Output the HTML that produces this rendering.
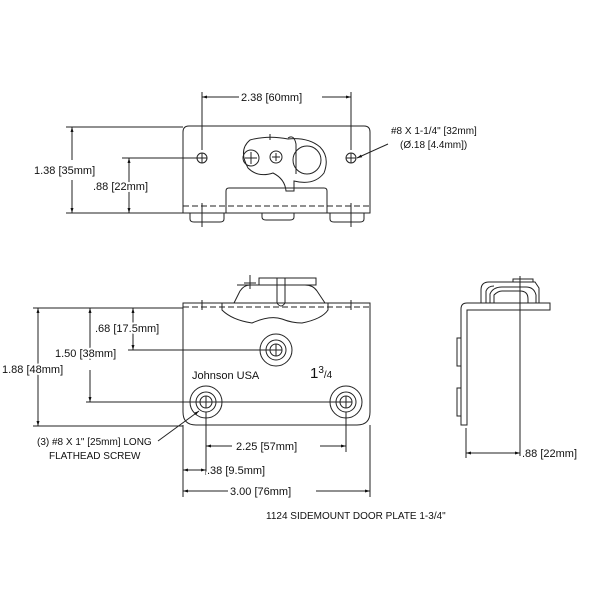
<!DOCTYPE html>
<html><head><style>body{margin:0;background:#fff}svg{display:block}text{font-family:"Liberation Sans",sans-serif;fill:#111;stroke:#fff;stroke-width:4px;paint-order:stroke;stroke-linejoin:round}</style></head>
<body>
<svg width="600" height="600" viewBox="0 0 600 600" xmlns="http://www.w3.org/2000/svg">
<defs>
<marker id="a" viewBox="0 0 10 10" refX="10" refY="5" markerWidth="7" markerHeight="5" orient="auto-start-reverse"><path d="M0,2 L10,5 L0,8z" fill="#111"/></marker>
</defs>
<g fill="none" stroke="#222" stroke-width="1">
<!-- TOP VIEW -->
<path d="M189,126 H364 Q370,126 370,132 V213 H183 V132 Q183,126 189,126Z"/>
<path d="M183,206 H370" stroke-dasharray="6,3"/>
<path d="M190,213 v6 q0,3 4,3 h26 q4,0 4,-3 v-6 M262,213 v4 q0,3 4,3 h24 q4,0 4,-3 v-4 M330,213 v6 q0,3 4,3 h26 q4,0 4,-3 v-6"/>
<path d="M226,213 V191 q0,-3 3,-3 h95 q3,0 3,3 V213"/>
<circle cx="202" cy="158" r="5"/><circle cx="351" cy="158" r="5"/>
<path d="M197,158h10M202,153v10M346,158h10M351,153v10"/>
<path d="M250,140 q-12,10 -2,28 q10,10 25,5 q12,6 13,18 h8 v-10 q20,5 30,-8 q6,-16 -4,-26 q-12,-10 -32,-8 q-20,-4 -38,1Z"/>
<circle cx="251" cy="158" r="8"/><path d="M245,158h12M251,152v12"/>
<circle cx="276" cy="157" r="6"/><path d="M272,157h8M276,153v8"/>
<circle cx="307" cy="160" r="14"/>
<path d="M288,138 q6,-4 8,6 l0,30"/>
<path d="M202,203v24M351,203v24M270,140v-6"/>
<!-- top dims -->
<path d="M202,150V92M351,150V92"/>
<path d="M202,97H239M322,97H351" marker-start="url(#a)" marker-end="url(#a)"/>
<path d="M66,127H183M66,213H183M122,158H197"/>
<path d="M72,127V160M72,180V213" marker-start="url(#a)" marker-end="url(#a)"/>
<path d="M129,158V213" marker-start="url(#a)" marker-end="url(#a)"/>
<path d="M388,144 L357,158" marker-end="url(#a)"/>
<!-- FRONT VIEW -->
<path d="M183,303 H370 V412 Q370,425 357,425 H196 Q183,425 183,412Z"/>
<path d="M183,307 H370" stroke-dasharray="6,3"/>
<path d="M222,303 V310 q10,10 30,13 q18,-8 30,-4 q10,4 20,4 q20,-4 26,-13 V303"/>
<path d="M234,303 l6,-12 q4,-6 10,-6 h55 q8,0 12,6 l8,12"/>
<path d="M237,285 h22 v-7 h57 v7 h-57"/>
<path d="M277,278 v25 q4,6 8,0 v-25"/>
<path d="M250,275v14M244,283h12M202,300v10M351,300v10"/>
<circle cx="276" cy="350" r="16"/><circle cx="276" cy="350" r="10"/><circle cx="276" cy="350" r="6"/><path d="M270,350h12M276,344v12"/>
<circle cx="206" cy="402" r="16"/><circle cx="206" cy="402" r="10"/><circle cx="206" cy="402" r="6"/><path d="M200,402h12M206,396v12"/>
<circle cx="346" cy="402" r="16"/><circle cx="346" cy="402" r="10"/><circle cx="346" cy="402" r="6"/><path d="M340,402h12M346,396v12"/>
<!-- front dims -->
<path d="M33,308H183M33,426H183M128,350H276M86,402H346"/>
<path d="M38,308V426" marker-start="url(#a)" marker-end="url(#a)"/>
<path d="M90,308V360M90,370V402" marker-start="url(#a)" marker-end="url(#a)"/>
<path d="M133,308V350" marker-start="url(#a)" marker-end="url(#a)"/>
<path d="M158,441 L199,411" marker-end="url(#a)"/>
<path d="M183,425V497M370,425V497M206,412V475M346,412V452"/>
<path d="M206,446H232M320,446H346" marker-start="url(#a)" marker-end="url(#a)"/>
<path d="M183,470H206" marker-start="url(#a)" marker-end="url(#a)"/>
<path d="M183,491H228M316,491H370" marker-start="url(#a)" marker-end="url(#a)"/>
<!-- SIDE VIEW -->
<path d="M461,425 V309 q0,-6 6,-6 H550 V310 H467 V425Z"/>
<path d="M461,338 h-4 v28 h4 M461,388 h-4 v28 h4"/>
<path d="M481,303 V290 q0,-8 8,-8 H535 l4,6 v15 M486,303 v-12 q2,-5 8,-5 M490,303 v-9 q3,-7 12,-7 h24 q8,0 10,8 v8"/>
<path d="M494,303 v-8 q4,-4 8,-4 h18 q8,0 8,8 v4"/>
<path d="M513,282h20v-3h-20z"/>
<path d="M520,276V456M466,428V458"/>
<path d="M466,453H520" marker-start="url(#a)" marker-end="url(#a)"/>
</g>
<g font-size="11">
<text x="241" y="101">2.38 [60mm]</text>
<text x="34" y="174">1.38 [35mm]</text>
<text x="93" y="190">.88 [22mm]</text>
<text x="391" y="134" font-size="10">#8 X 1-1/4" [32mm]</text>
<text x="400" y="148" font-size="10">(Ø.18 [4.4mm])</text>
<text x="95" y="332">.68 [17.5mm]</text>
<text x="55" y="357">1.50 [38mm]</text>
<text x="2" y="373">1.88 [48mm]</text>
<text x="192" y="379">Johnson USA</text>
<text x="310" y="378" font-size="15">1<tspan font-size="10" dy="-5">3</tspan><tspan font-size="10" dy="5">/4</tspan></text>
<text x="37" y="445" font-size="10">(3) #8 X 1" [25mm] LONG</text>
<text x="49" y="459" font-size="10">FLATHEAD SCREW</text>
<text x="236" y="450">2.25 [57mm]</text>
<text x="207" y="474">.38 [9.5mm]</text>
<text x="230" y="495">3.00 [76mm]</text>
<text x="522" y="457">.88 [22mm]</text>
<text x="266" y="519" font-size="10">1124 SIDEMOUNT DOOR PLATE 1-3/4"</text>
</g>
</svg>
</body></html>
